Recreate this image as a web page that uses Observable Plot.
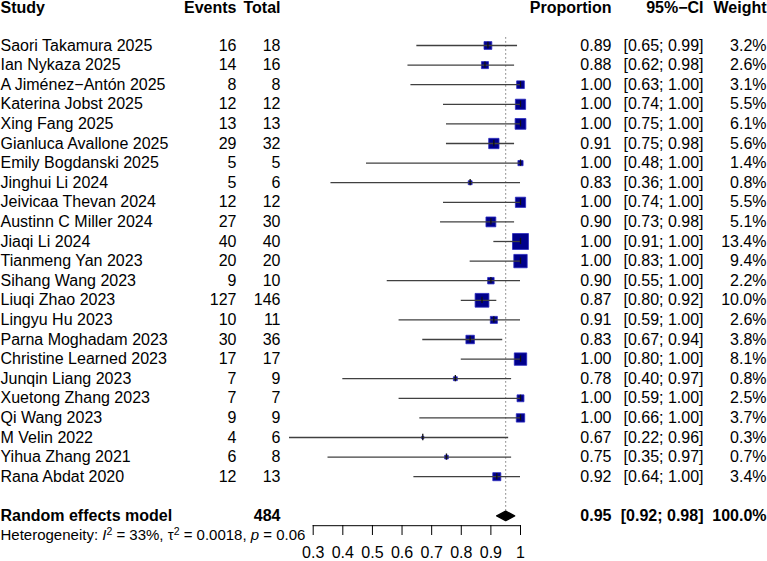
<!DOCTYPE html>
<html><head><meta charset="utf-8">
<script src="https://cdn.jsdelivr.net/npm/d3@7"></script>
<script src="https://cdn.jsdelivr.net/npm/@observablehq/plot@0.6"></script>
<style>body{margin:0;background:#fff;}</style>
</head><body><div id="chart"></div>
<script>
const studies = ["Saori Takamura 2025","Ian Nykaza 2025","A Jiménez\u2212Antón 2025","Katerina Jobst 2025","Xing Fang 2025","Gianluca Avallone 2025","Emily Bogdanski 2025","Jinghui Li 2024","Jeivicaa Thevan 2024","Austinn C Miller 2024","Jiaqi Li 2024","Tianmeng Yan 2023","Sihang Wang 2023","Liuqi Zhao 2023","Lingyu Hu 2023","Parna Moghadam 2023","Christine Learned 2023","Junqin Liang 2023","Xuetong Zhang 2023","Qi Wang 2023","M Velin 2022","Yihua Zhang 2021","Rana Abdat 2020"];
const events  = [16,14,8,12,13,29,5,5,12,27,40,20,9,127,10,30,17,7,7,9,4,6,12];
const totals  = [18,16,8,12,13,32,5,6,12,30,40,20,10,146,11,36,17,9,7,9,6,8,13];
const props   = [0.89,0.88,1.00,1.00,1.00,0.91,1.00,0.83,1.00,0.90,1.00,1.00,0.90,0.87,0.91,0.83,1.00,0.78,1.00,1.00,0.67,0.75,0.92];
const lower   = [0.65,0.62,0.63,0.74,0.75,0.75,0.48,0.36,0.74,0.73,0.91,0.83,0.55,0.80,0.59,0.67,0.80,0.40,0.59,0.66,0.22,0.35,0.64];
const upper   = [0.99,0.98,1.00,1.00,1.00,0.98,1.00,1.00,1.00,0.98,1.00,1.00,1.00,0.92,1.00,0.94,1.00,0.97,1.00,1.00,0.96,0.97,1.00];
const weights = [3.2,2.6,3.1,5.5,6.1,5.6,1.4,0.8,5.5,5.1,13.4,9.4,2.2,10.0,2.6,3.8,8.1,0.8,2.5,3.7,0.3,0.7,3.4];
const xTicks  = [0.3,0.4,0.5,0.6,0.7,0.8,0.9,1];
const modelLabel = "Random effects model";
const modelTotal = 484;
const modelEst = 0.95, modelLo = 0.92, modelHi = 0.98, modelWeight = 100.0;
const hetText = "Heterogeneity: I2 = 33%, \u03c42 = 0.0018, p = 0.06";

const font = "'Liberation Sans', Arial, Helvetica, sans-serif";
const rows = studies.map((study,i)=>({row:i, study, events:events[i], total:totals[i], est:props[i], lo:lower[i], hi:upper[i], w:weights[i]}));
const modelRow = studies.length + 1;
const hetRow = modelRow + 1;
const headerRow = -1.9;
const model = {row:modelRow, study:modelLabel, events:"", total:modelTotal, est:modelEst, lo:modelLo, hi:modelHi, w:modelWeight};
const diamond = [
  {x:model.lo, y:modelRow},{x:model.est, y:modelRow-0.24},{x:model.hi, y:modelRow},{x:model.est, y:modelRow+0.24},{x:model.lo, y:modelRow}
];
const f2 = d=>d.toFixed(2);
const columns = [
  {header:"Study", value:d=>d.study, anchor:"start", dx:0},
  {header:"Events", value:d=>d.events, anchor:"end", dx:236},
  {header:"Total", value:d=>d.total, anchor:"end", dx:280},
  {header:"Proportion", value:d=>f2(d.est), anchor:"end", dx:611},
  {header:"95%\u2212CI", value:d=>`[${f2(d.lo)}; ${f2(d.hi)}]`, anchor:"end", dx:703},
  {header:"Weight", value:d=>d.w.toFixed(1)+"%", anchor:"end", dx:766}
];
const textMarks = [];
for (const c of columns) {
  textMarks.push(Plot.text([c.header], {y:()=>headerRow, text:d=>d, frameAnchor:"left", dx:c.dx, textAnchor:c.anchor, fontWeight:"bold", fontSize:16}));
  textMarks.push(Plot.text(rows, {y:"row", text:c.value, frameAnchor:"left", dx:c.dx, textAnchor:c.anchor, fontSize:16}));
  textMarks.push(Plot.text([model], {y:"row", text:c.value, frameAnchor:"left", dx:c.dx, textAnchor:c.anchor, fontWeight:"bold", fontSize:16}));
}
textMarks.push(Plot.text([hetText], {y:()=>hetRow, text:d=>d, frameAnchor:"left", textAnchor:"start", fontSize:15}));

const chart = Plot.plot({
  width:767, height:561, marginTop:0, marginLeft:0, marginRight:0, marginBottom:36,
  style:{fontFamily:font, fontSize:"16px", background:"white", color:"black"},
  x:{domain:[0.3,1], range:[312.7,520]},
  y:{domain:[0,25], range:[45,535], axis:null},
  r:{type:"sqrt", domain:[0, d3.max(weights)], range:[0,9]},
  marks:[
    Plot.ruleX([model], {x:"est", y1:-0.4, y2:modelRow-0.25, stroke:"#777", strokeDasharray:"1.5,2.5"}),
    Plot.dot(rows, {x:"est", y:"row", r:"w", symbol:"square", fill:"#00008b", stroke:"#2a2ac0", strokeWidth:0.8}),
    Plot.ruleY(rows, {y:"row", x1:"lo", x2:"hi", stroke:"#404040", strokeWidth:1.3}),
    Plot.ruleX(rows, {x:"est", y1:d=>d.row-0.16, y2:d=>d.row+0.16, stroke:"#111", strokeWidth:1.3}),
    Plot.line(diamond, {x:"x", y:"y", fill:"black", stroke:"black"}),
    Plot.ruleY([modelRow+0.5], {y:d=>d, x1:xTicks[0], x2:xTicks[xTicks.length-1], stroke:"black", strokeWidth:1}),
    Plot.axisX({ticks:xTicks, tickFormat:d=>String(d), tickSize:10, tickPadding:11, fontSize:16, stroke:"black", strokeWidth:1}),
    ...textMarks
  ]
});
document.getElementById("chart").appendChild(chart);
for (const t of chart.querySelectorAll("text")) {
  if (t.textContent.startsWith("Heterogeneity")) {
    t.innerHTML = 'Heterogeneity: <tspan font-style="italic">I</tspan><tspan dy="-5" font-size="10.5">2</tspan><tspan dy="5"> = 33%, \u03c4</tspan><tspan dy="-5" font-size="10.5">2</tspan><tspan dy="5"> = 0.0018, </tspan><tspan font-style="italic">p</tspan><tspan> = 0.06</tspan>';
  }
}
</script>
</body></html>
